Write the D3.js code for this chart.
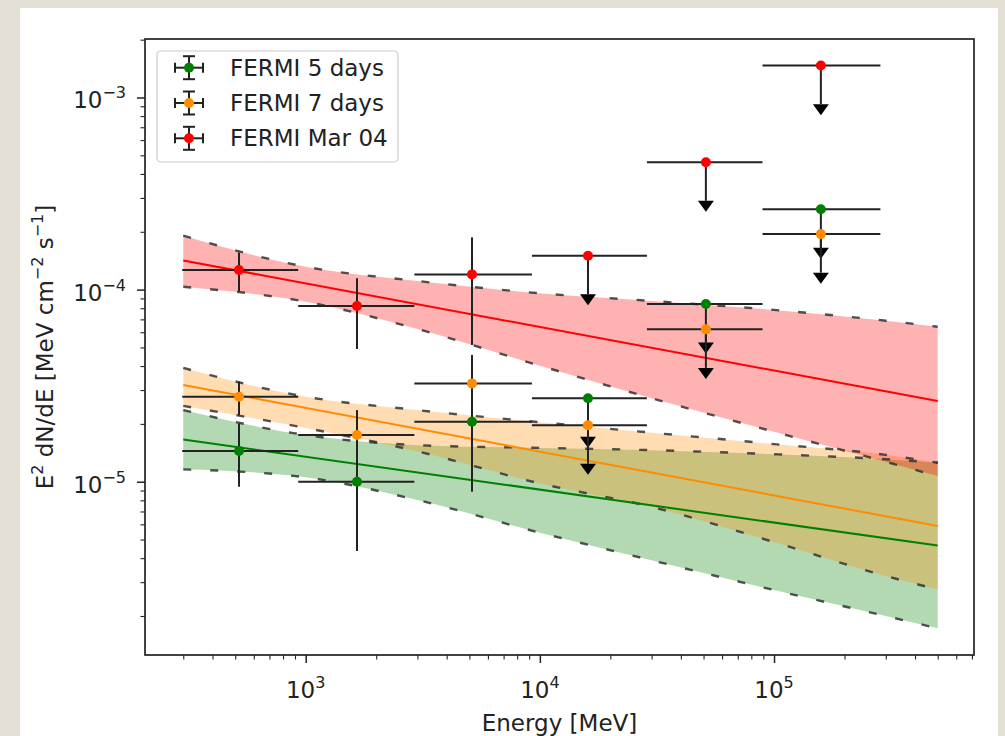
<!DOCTYPE html>
<html>
<head>
<meta charset="utf-8">
<script src="https://cdn.jsdelivr.net/npm/d3@7"></script>
<style>
body { margin: 0; background: #e5e0d6; }
svg { display: block; }
text { font-family: "DejaVu Sans", sans-serif; fill: #222; }
</style>
</head>
<body>
<svg id="chart" width="1005" height="736"></svg>
<script>
// energy bins (MeV)
var energy = [519, 1656, 5130, 16050, 51170, 158500];
var energyLow = [297, 929, 2911, 9250, 28650, 89300];
var energyHigh = [929, 2911, 9250, 28650, 89300, 284600];
var upperLimit = [false, false, false, true, true, true];

// E^2 dN/dE points, null error where the point is an upper limit
var flux5days = [1.445e-5, 1.0e-5, 2.05e-5, 2.72e-5, 8.41e-5, 2.62e-4];
var flux5daysHi = [2.01e-5, 1.65e-5, 2.83e-5, null, null, null];
var flux5daysLo = [9.42e-6, 4.36e-6, 8.87e-6, null, null, null];

var flux7days = [2.77e-5, 1.75e-5, 3.25e-5, 1.97e-5, 6.21e-5, 1.945e-4];
var flux7daysHi = [3.32e-5, 2.36e-5, 4.57e-5, null, null, null];
var flux7daysLo = [2.22e-5, 1.27e-5, 2.31e-5, null, null, null];

var fluxMar04 = [1.265e-4, 8.22e-5, 1.2e-4, 1.5e-4, 4.6e-4, 1.466e-3];
var fluxMar04Hi = [1.56e-4, 1.146e-4, 1.87e-4, null, null, null];
var fluxMar04Lo = [9.8e-5, 4.91e-5, 5.15e-5, null, null, null];

// butterfly bands, read at these energies
var bandEnergy = [300, 1000, 3000, 1e4, 3e4, 1e5, 3e5, 5e5];
var band5daysHi = [2.36e-5, 1.75e-5, 1.55e-5, 1.50e-5, 1.46e-5, 1.39e-5, 1.31e-5, 1.256e-5];
var band5daysLo = [1.16e-5, 1.054e-5, 8.03e-6, 5.43e-6, 3.90e-6, 2.73e-6, 2.00e-6, 1.726e-6];
var band7daysHi = [3.91e-5, 2.77e-5, 2.36e-5, 2.04e-5, 1.80e-5, 1.57e-5, 1.38e-5, 1.256e-5];
var band7daysLo = [2.48e-5, 1.905e-5, 1.44e-5, 9.8e-6, 7.4e-6, 4.85e-6, 3.23e-6, 2.75e-6];
var bandMar04Hi = [1.909e-4, 1.315e-4, 1.109e-4, 9.57e-5, 8.73e-5, 7.84e-5, 6.89e-5, 6.41e-5];
var bandMar04Lo = [1.035e-4, 8.65e-5, 6.24e-5, 4.02e-5, 2.72e-5, 1.82e-5, 1.27e-5, 1.07e-5];

// power-law model lines, ends only
var modelEnergy = [300, 5e5];
var model5days = [1.66e-5, 4.65e-6];
var model7days = [3.19e-5, 5.88e-6];
var modelMar04 = [1.416e-4, 2.63e-5];

var xMajor = [1e3, 1e4, 1e5];
var yMajor = [1e-5, 1e-4, 1e-3];
var ulDrop = 0.63;

var series = [
	{name: "FERMI 5 days", color: "green", flux: flux5days, hi: flux5daysHi, lo: flux5daysLo,
		bandHi: band5daysHi, bandLo: band5daysLo, model: model5days},
	{name: "FERMI 7 days", color: "darkorange", flux: flux7days, hi: flux7daysHi, lo: flux7daysLo,
		bandHi: band7daysHi, bandLo: band7daysLo, model: model7days},
	{name: "FERMI Mar 04", color: "red", flux: fluxMar04, hi: fluxMar04Hi, lo: fluxMar04Lo,
		bandHi: bandMar04Hi, bandLo: bandMar04Lo, model: modelMar04}
];

var axL = 145, axR = 974, axT = 39, axB = 655;
var fontSize = "23px", supSize = "16px";

var x = d3.scaleLog()
	.domain([Math.pow(10, 2.3137), Math.pow(10, 5.854)])
	.range([axL, axR]);
var y = d3.scaleLog()
	.domain([Math.pow(10, -5.902), Math.pow(10, -2.6955)])
	.range([axB, axT]);

var svg = d3.select("#chart");

svg.append("rect")
	.attr("x", 20).attr("y", 8)
	.attr("width", 978).attr("height", 740)
	.attr("fill", "white");

var bandLayer = svg.append("g");
var edgeLayer = svg.append("g");
var modelLayer = svg.append("g");
var pointLayer = svg.append("g");

// bands, dashed edges and model lines
series.forEach(function(s) {
	var pts = bandEnergy.map(function(e, i) { return [e, s.bandLo[i], s.bandHi[i]]; });

	bandLayer.append("path")
		.datum(pts)
		.attr("fill", s.color)
		.attr("fill-opacity", 0.3)
		.attr("d", d3.area()
			.curve(d3.curveMonotoneX)
			.x(function(d) { return x(d[0]); })
			.y0(function(d) { return y(d[1]); })
			.y1(function(d) { return y(d[2]); }));

	[1, 2].forEach(function(k) {
		edgeLayer.append("path")
			.datum(pts)
			.attr("fill", "none")
			.attr("stroke", "#333")
			.attr("stroke-opacity", 0.85)
			.attr("stroke-width", 2.4)
			.attr("stroke-dasharray", "8,19")
			.attr("d", d3.line()
				.curve(d3.curveMonotoneX)
				.x(function(d) { return x(d[0]); })
				.y(function(d) { return y(d[k]); }));
	});

	modelLayer.append("path")
		.datum(modelEnergy.map(function(e, i) { return [e, s.model[i]]; }))
		.attr("fill", "none")
		.attr("stroke", s.color)
		.attr("stroke-width", 2)
		.attr("d", d3.line()
			.x(function(d) { return x(d[0]); })
			.y(function(d) { return y(d[1]); }));
});

// error bars, upper limit arrows, points
series.forEach(function(s) {
	var g = pointLayer.append("g");
	energy.forEach(function(e, i) {
		var cx = x(e), cy = y(s.flux[i]);
		g.append("line")
			.attr("x1", x(energyLow[i])).attr("x2", x(energyHigh[i]))
			.attr("y1", cy).attr("y2", cy)
			.attr("stroke", "#222").attr("stroke-width", 2);
		if (upperLimit[i]) {
			var ye = y(s.flux[i] * ulDrop);
			g.append("line")
				.attr("x1", cx).attr("x2", cx)
				.attr("y1", cy).attr("y2", ye)
				.attr("stroke", "#222").attr("stroke-width", 2);
			g.append("path")
				.attr("d", "M" + (cx - 8) + "," + ye + "L" + (cx + 8) + "," + ye + "L" + cx + "," + (ye + 11) + "Z")
				.attr("fill", "black");
		} else {
			g.append("line")
				.attr("x1", cx).attr("x2", cx)
				.attr("y1", y(s.hi[i])).attr("y2", y(s.lo[i]))
				.attr("stroke", "#222").attr("stroke-width", 2);
		}
	});
	g.selectAll("circle")
		.data(energy)
		.enter()
		.append("circle")
		.attr("cx", function(d) { return x(d); })
		.attr("cy", function(d, i) { return y(s.flux[i]); })
		.attr("r", 5)
		.attr("fill", s.color);
});

// axes
function isMajor(d) { return Math.abs(Math.log10(d) - Math.round(Math.log10(d))) < 1e-6; }

var xMinor = svg.append("g")
	.attr("transform", "translate(0," + axB + ")")
	.call(d3.axisBottom(x).tickValues(x.ticks().filter(function(d) { return !isMajor(d); }))
		.tickSize(4.5).tickFormat(""));
var xMaj = svg.append("g")
	.attr("transform", "translate(0," + axB + ")")
	.call(d3.axisBottom(x).tickValues(xMajor).tickSize(8).tickFormat(""));
var yMinor = svg.append("g")
	.attr("transform", "translate(" + axL + ",0)")
	.call(d3.axisLeft(y).tickValues(y.ticks().filter(function(d) { return !isMajor(d); }))
		.tickSize(4.5).tickFormat(""));
var yMaj = svg.append("g")
	.attr("transform", "translate(" + axL + ",0)")
	.call(d3.axisLeft(y).tickValues(yMajor).tickSize(8).tickFormat(""));

svg.selectAll(".domain").remove();
[xMinor, yMinor].forEach(function(a) { a.selectAll(".tick line").attr("stroke", "#222").attr("stroke-width", 1.1); });
[xMaj, yMaj].forEach(function(a) { a.selectAll(".tick line").attr("stroke", "#222").attr("stroke-width", 1.5); });

xMajor.forEach(function(d) {
	var t = svg.append("text")
		.attr("x", x(d)).attr("y", 698)
		.attr("text-anchor", "middle")
		.style("font-size", fontSize);
	t.append("tspan").text("10");
	t.append("tspan").attr("dy", "-10").style("font-size", supSize).text(Math.round(Math.log10(d)));
});

yMajor.forEach(function(d) {
	var t = svg.append("text")
		.attr("x", 126).attr("y", y(d) + 11)
		.attr("text-anchor", "end")
		.style("font-size", fontSize);
	t.append("tspan").text("10");
	t.append("tspan").attr("dy", "-10").style("font-size", supSize).text("\u2212" + Math.abs(Math.round(Math.log10(d))));
});

svg.append("rect")
	.attr("x", axL).attr("y", axT)
	.attr("width", axR - axL).attr("height", axB - axT)
	.attr("fill", "none")
	.attr("stroke", "#222")
	.attr("stroke-width", 1.7);

// axis titles
svg.append("text")
	.attr("x", (axL + axR) / 2).attr("y", 731)
	.attr("text-anchor", "middle")
	.style("font-size", fontSize)
	.text("Energy [MeV]");

var yl = svg.append("text")
	.attr("transform", "translate(53," + (axT + axB) / 2 + ") rotate(-90)")
	.attr("text-anchor", "middle")
	.style("font-size", fontSize);
yl.append("tspan").text("E");
yl.append("tspan").attr("dy", -10).style("font-size", supSize).text("2");
yl.append("tspan").attr("dy", 10).text(" dN/dE [MeV cm");
yl.append("tspan").attr("dy", -10).style("font-size", supSize).text("\u22122");
yl.append("tspan").attr("dy", 10).text(" s");
yl.append("tspan").attr("dy", -10).style("font-size", supSize).text("\u22121");
yl.append("tspan").attr("dy", 10).text("]");

// legend
var legend = svg.append("g");
legend.append("rect")
	.attr("x", 157).attr("y", 51)
	.attr("width", 241).attr("height", 111)
	.attr("rx", 4)
	.attr("fill", "white").attr("fill-opacity", 0.8)
	.attr("stroke", "#ccc").attr("stroke-width", 1.2);

series.forEach(function(s, i) {
	var cy = 67.7 + i * 35.3, cx = 189;
	var row = legend.append("g").attr("stroke", "#222").attr("stroke-width", 2);
	row.append("line").attr("x1", cx - 14).attr("x2", cx + 14).attr("y1", cy).attr("y2", cy);
	row.append("line").attr("x1", cx - 14).attr("x2", cx - 14).attr("y1", cy - 5).attr("y2", cy + 5);
	row.append("line").attr("x1", cx + 14).attr("x2", cx + 14).attr("y1", cy - 5).attr("y2", cy + 5);
	row.append("line").attr("x1", cx).attr("x2", cx).attr("y1", cy - 11.5).attr("y2", cy + 11.5);
	row.append("line").attr("x1", cx - 6).attr("x2", cx + 6).attr("y1", cy - 11.5).attr("y2", cy - 11.5);
	row.append("line").attr("x1", cx - 6).attr("x2", cx + 6).attr("y1", cy + 11.5).attr("y2", cy + 11.5);
	legend.append("circle").attr("cx", cx).attr("cy", cy).attr("r", 5).attr("fill", s.color);
	legend.append("text")
		.attr("x", 230).attr("y", cy + 8)
		.style("font-size", fontSize)
		.text(s.name);
});
</script>
</body>
</html>
